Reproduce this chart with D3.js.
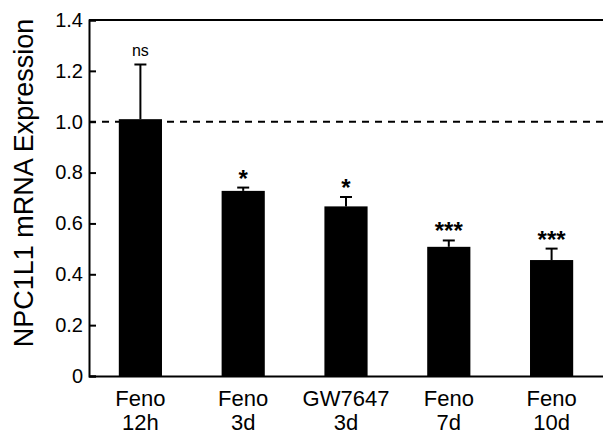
<!DOCTYPE html>
<html>
<head>
<meta charset="utf-8">
<script src="https://cdn.jsdelivr.net/npm/d3@7"></script>
<style>
  body { margin: 0; background: #fff; }
  text { font-family: "Liberation Sans", Arial, sans-serif; }
</style>
</head>
<body>
<div id="plot"></div>
<script>
    // Data
    const groups = ['Feno|12h', 'Feno|3d', 'GW7647|3d', 'Feno|7d', 'Feno|10d'];
    const means = [1.01, 0.728, 0.667, 0.508, 0.456];
    const errors = [0.215, 0.013, 0.037, 0.025, 0.045];
    const marks = ['ns', '*', '*', '***', '***'];
    const yTicks = [0, 0.2, 0.4, 0.6, 0.8, 1.0, 1.2, 1.4];
    const refLine = 1.0;

    const svgWidth = 603;
    const svgHeight = 434;
    const margin = { top: 20, right: 0, bottom: 58, left: 89 };

    const svg = d3.select('#plot')
        .append('svg')
        .attr('width', svgWidth)
        .attr('height', svgHeight);

    const xScale = d3.scaleBand()
        .domain(groups)
        .range([margin.left, svgWidth - margin.right])
        .paddingInner(0.58)
        .paddingOuter(0.29);

    const yScale = d3.scaleLinear()
        .domain([0, 1.4])
        .range([svgHeight - margin.bottom, margin.top]);

    // bars
    svg.selectAll('.bar')
        .data(groups)
        .enter()
        .append('rect')
        .attr('class', 'bar')
        .attr('x', d => xScale(d))
        .attr('y', (d, i) => yScale(means[i]))
        .attr('width', xScale.bandwidth())
        .attr('height', (d, i) => yScale(0) - yScale(means[i]))
        .attr('fill', '#000');

    // error bars (upper only)
    const eb = svg.selectAll('.err')
        .data(groups)
        .enter()
        .append('g')
        .attr('class', 'err')
        .attr('stroke', '#000')
        .attr('stroke-width', 2);
    eb.append('line')
        .attr('x1', d => xScale(d) + xScale.bandwidth() / 2)
        .attr('x2', d => xScale(d) + xScale.bandwidth() / 2)
        .attr('y1', (d, i) => yScale(means[i]))
        .attr('y2', (d, i) => yScale(means[i] + errors[i]));
    eb.append('line')
        .attr('x1', d => xScale(d) + xScale.bandwidth() / 2 - 6)
        .attr('x2', d => xScale(d) + xScale.bandwidth() / 2 + 6)
        .attr('y1', (d, i) => yScale(means[i] + errors[i]))
        .attr('y2', (d, i) => yScale(means[i] + errors[i]));

    // significance marks
    svg.selectAll('.sig')
        .data(groups)
        .enter()
        .append('text')
        .attr('class', 'sig')
        .attr('x', d => xScale(d) + xScale.bandwidth() / 2)
        .attr('y', (d, i) => yScale(means[i] + errors[i]) - (marks[i] === 'ns' ? 9 : 1))
        .attr('text-anchor', 'middle')
        .style('font-size', (d, i) => marks[i] === 'ns' ? '16px' : '24px')
        .style('font-weight', (d, i) => marks[i] === 'ns' ? 'normal' : 'bold')
        .text((d, i) => marks[i]);

    // dashed reference line
    svg.append('line')
        .attr('x1', margin.left)
        .attr('x2', svgWidth)
        .attr('y1', yScale(refLine))
        .attr('y2', yScale(refLine))
        .attr('stroke', '#000')
        .attr('stroke-width', 2)
        .attr('stroke-dasharray', '7,6');

    // top frame line
    svg.append('line')
        .attr('x1', margin.left)
        .attr('x2', svgWidth)
        .attr('y1', margin.top)
        .attr('y2', margin.top)
        .attr('stroke', '#000')
        .attr('stroke-width', 2);

    // y axis, ticks pointing inward
    const yAxis = svg.append('g')
        .attr('class', 'y-axis')
        .attr('transform', `translate(${margin.left}, 0)`)
        .call(d3.axisLeft(yScale)
            .tickValues(yTicks)
            .tickSize(-7)
            .tickPadding(6)
            .tickFormat(d => d === 0 ? '0' : d3.format('.1f')(d)));
    yAxis.select('.domain').attr('stroke-width', 2);
    yAxis.selectAll('.tick line').attr('stroke-width', 2);
    yAxis.selectAll('text')
        .style('font-size', '20px')
        .style('font-family', '"Liberation Sans", Arial, sans-serif')
        .attr('fill', '#000');

    // x axis
    const xAxis = svg.append('g')
        .attr('class', 'x-axis')
        .attr('transform', `translate(0, ${svgHeight - margin.bottom})`)
        .call(d3.axisBottom(xScale).tickSize(0).tickFormat(''));
    xAxis.select('.domain').attr('stroke-width', 2);

    // two-line category labels
    const lbl = svg.selectAll('.x-label')
        .data(groups)
        .enter()
        .append('text')
        .attr('class', 'x-label')
        .attr('text-anchor', 'middle')
        .style('font-size', '22px')
        .attr('x', d => xScale(d) + xScale.bandwidth() / 2)
        .attr('y', svgHeight - margin.bottom + 30);
    lbl.append('tspan')
        .attr('x', d => xScale(d) + xScale.bandwidth() / 2)
        .text(d => d.split('|')[0]);
    lbl.append('tspan')
        .attr('x', d => xScale(d) + xScale.bandwidth() / 2)
        .attr('dy', 24)
        .text(d => d.split('|')[1]);

    // y axis title
    svg.append('text')
        .attr('class', 'y-axis-label')
        .attr('transform', `translate(33, 183) rotate(-90)`)
        .attr('text-anchor', 'middle')
        .style('font-size', '27px')
        .text('NPC1L1 mRNA Expression');
</script>
</body>
</html>
